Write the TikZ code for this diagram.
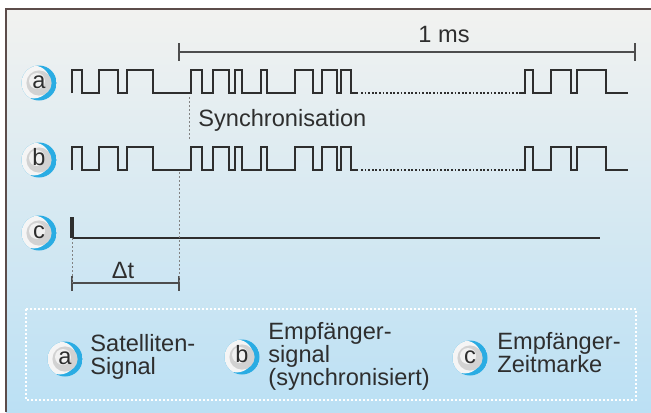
\documentclass[tikz,border=0pt]{standalone}
\usepackage{fontspec}
\setmainfont{Liberation Sans}
\usepackage{xcolor}
\usetikzlibrary{calc,positioning}
\definecolor{ink}{HTML}{2E2E2E}
\definecolor{ringblue}{HTML}{2AACE3}
\definecolor{badgegray}{HTML}{D2D2D2}
\definecolor{bgtop}{HTML}{F2F2F0}
\definecolor{bgmid}{HTML}{DEEAEF}
\definecolor{bgbottom}{HTML}{BBE0F4}
\definecolor{framebrown}{HTML}{5C4C4A}
\tikzstyle{l1}=[line width=0.75pt, color=ink]
\tikzstyle{l2}=[line width=1.3pt, color=ink]
\tikzstyle{gap}=[line width=0.9pt, color=ink, dash pattern=on 0.9pt off 0.9pt]
\tikzstyle{sync}=[line width=0.5pt, dash pattern=on 1pt off 1pt, color=ink!60]
\tikzstyle{badge}=[circle, minimum size=17.5pt, inner sep=0pt, text=ink, text height=1.1ex, text depth=0pt,
    path picture={
        \fill[ringblue] (path picture bounding box.center) circle (9pt);
        \fill[white!92!gray] ([xshift=-2.6pt, yshift=0.5pt]path picture bounding box.center) circle (8.2pt);
        \fill[badgegray] (path picture bounding box.center) circle (6.3pt);
        \fill[white!70!badgegray] ([xshift=-1pt, yshift=1pt]path picture bounding box.center) circle (4pt);
    }]
\tikzstyle{txt}=[inner sep=0pt, text=ink, align=left]
\tikzstyle{legend}=[draw=white, line width=0.6pt, dash pattern=on 1pt off 1pt]

% one satellite code train, pixel coordinates
\newcommand{\pulsetrain}{%
    \draw[l1] (72,93) -- (72,70) -| (82,93) -| (99,70) -| (118,93) -| (127,70) -| (153,93) -- (179,93);
    \draw[l2] (179,93) -| (191,70) -| (202,93) -| (213,70) -| (229,93) -| (235,70) -| (242,93) -| (261,70) -| (267,93)
        -| (295,70) -| (313,93) -| (322,70) -| (337,93) -| (341,70) -| (351,93) -- (358,93);
    \draw[gap] (361,93) -- (521,93);
    \draw[l2] (521,93) -| (525,70) -| (533,93) -| (551,70) -| (571,93) -| (577,70) -| (606,93) -- (628,93);
}

\begin{document}
\begin{tikzpicture}[x=0.5pt, y=-0.5pt, font=\fontsize{11.8pt}{11.5pt}\selectfont]
    \useasboundingbox (0,0) rectangle (651,412);
    \shade[top color=bgtop, middle color=bgmid, bottom color=bgbottom] (6,9) rectangle (651,412);
    \draw[framebrown, line width=0.8pt] (6,412) -- (6,9) -- (651,9);

    % signals a and b
    \pulsetrain
    \begin{scope}[shift={(0,77)}]
        \pulsetrain
    \end{scope}

    % time mark c
    \coordinate (c0) at (72,238);
    \coordinate (c1) at (600,238);
    \draw[l1] (c0) -- (c1);
    \draw[line width=1.6pt, ink] (72,217) -- (c0);

    \coordinate (ms0) at (179,52);
    \coordinate (ms1) at (635,52);
    \draw[l1, ink!85] (ms0) -- (ms1);
    \draw[l1, ink!85] (ms0) ++(0,-9) -- +(0,18) (ms1) ++(0,-9) -- +(0,18);

    \coordinate (dt0) at (72,283);
    \coordinate (dt1) at (179,283);
    \draw[l1, ink!85] (dt0) -- (dt1);
    \draw[l1, ink!85] (dt0) ++(0,-7) -- +(0,15) (dt1) ++(0,-7) -- +(0,15);

    \draw[sync] (189,97) -- (189,140);
    \draw[sync] (179,172) -- (dt1);
    \draw[sync] (c0) -- (dt0);

    \node (ms) [txt, anchor=base] at (444,42) {1 ms};
    \node (sync) [txt, anchor=base west] at (198,126) {Synchronisation};
    \node (dt) [txt, anchor=base] at (123,278) {Δt};

    \node (lblA) [badge] at (39,83) {a};
    \node (lblB) [badge] at (39,160) {b};
    \node (lblC) [badge] at (39,233) {c};

    % legend
    \path[legend] (26,309) rectangle (636,400);
    \node (legA) [badge] at (65,359) {a};
    \node (legB) [badge] at (242,357) {b};
    \node (legC) [badge] at (470,358) {c};
    \node (txtA) [txt, anchor=west] at (90,357) {Satelliten-\\Signal};
    \node (txtB) [txt, anchor=west] at (268,356) {Empfänger-\\signal\\(synchronisiert)};
    \node (txtC) [txt, anchor=west] at (497,353) {Empfänger-\\Zeitmarke};
\end{tikzpicture}
\end{document}
